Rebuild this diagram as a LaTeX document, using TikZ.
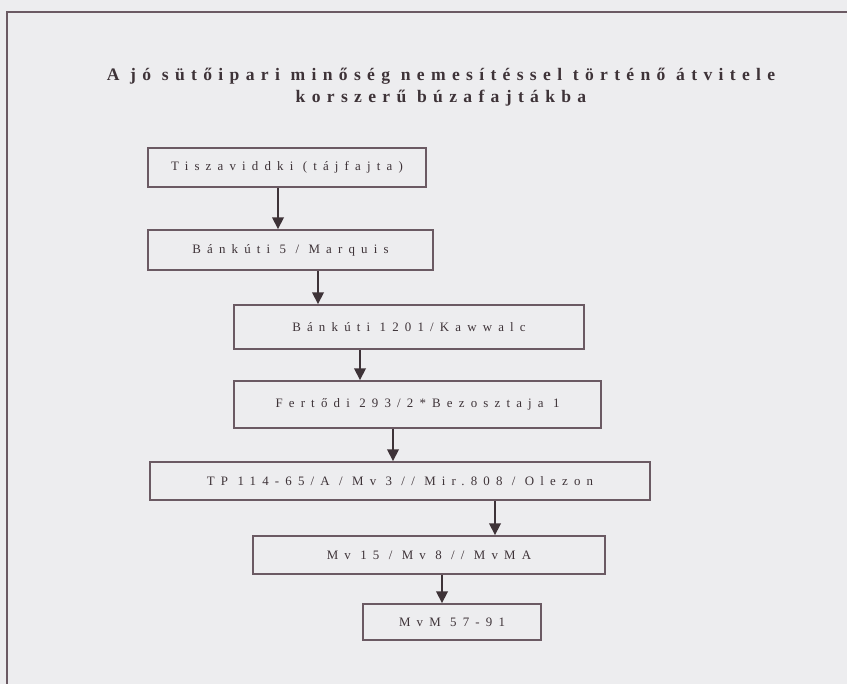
\documentclass[tikz,border=0pt]{standalone}
\usepackage{fontspec}
\setmainfont{Liberation Serif}
\newfontfamily\ritkitott[LetterSpace=48]{Liberation Serif}
\newfontfamily\cimbetu[LetterSpace=36]{Liberation Serif}
\usetikzlibrary{arrows.meta}
\definecolor{keret}{HTML}{6B5A63}
\definecolor{papir}{HTML}{EDEDEF}
\definecolor{tinta}{HTML}{3E3338}
\tikzset{
    fajtabox/.style={draw=keret, line width=1.6pt, inner sep=0pt, text=tinta, font=\ritkitott\fontsize{11}{13}\selectfont},
    nyil/.style={draw=tinta, line width=1.4pt, -{Triangle[width=10pt, length=10pt]}},
}
\newcommand{\fajta}[5]{
    \node[fajtabox, minimum width=#3*0.03cm, minimum height=#4*0.03cm] (#1) at (#2) {#5};
}

\begin{document}
\begin{tikzpicture}[x=0.03cm, y=-0.03cm]
                    \fill[papir] (0,0) rectangle (847,684);
                    \useasboundingbox (0,0) rectangle (847,684);
                    \draw[keret, line width=2.5pt] (7,684) -- (7,12) -- (847,12);
                    \node[font=\cimbetu\bfseries\fontsize{15}{18.7}\selectfont, text=tinta, align=center] (cim) at (441,87)
                    {A jó sütőipari minőség nemesítéssel történő átvitele\\korszerű búzafajtákba};
                    \fajta{tisza}{287, 167.5}{278}{39}{Tiszaviddki (tájfajta)}
                    \fajta{bank5}{290.5, 250}{285}{40}{Bánkúti 5 / Marquis}
                    \fajta{bank1201}{409, 327}{350}{44}{Bánkúti 1201/Kawwalc}
                    \fajta{fertodi}{417.5, 404.5}{367}{47}{Fertődi 293/2*Bezosztaja 1}
                    \fajta{tp}{400, 481}{500}{38}{TP 114-65/A / Mv 3 // Mir.808 / Olezon}
                    \fajta{mv15}{429, 555}{352}{38}{Mv 15 / Mv 8 // MvMA}
                    \fajta{mvm}{452, 622}{178}{36}{MvM 57-91}
                    \coordinate (n1) at (278, 0);
                    \coordinate (n2) at (318, 0);
                    \coordinate (n3) at (360, 0);
                    \coordinate (n4) at (393, 0);
                    \coordinate (n5) at (495, 0);
                    \coordinate (n6) at (442, 0);
                    \draw[nyil] (tisza.south -| n1) -- (bank5.north -| n1);
                    \draw[nyil] (bank5.south -| n2) -- (bank1201.north -| n2);
                    \draw[nyil] (bank1201.south -| n3) -- (fertodi.north -| n3);
                    \draw[nyil] (fertodi.south -| n4) -- (tp.north -| n4);
                    \draw[nyil] (tp.south -| n5) -- (mv15.north -| n5);
                    \draw[nyil] (mv15.south -| n6) -- (mvm.north -| n6);
                \end{tikzpicture}
\end{document}
